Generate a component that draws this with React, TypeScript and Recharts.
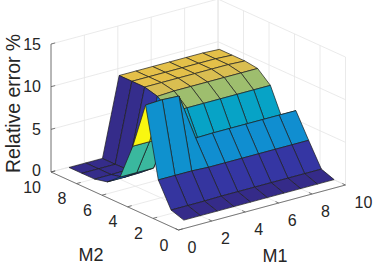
import { Scatter, ScatterChart, XAxis, YAxis } from "recharts";

const WIDTH = 374;
const HEIGHT = 266;

const m1Nodes = [0.7, 1.7, 2.7, 3.7, 4.7, 5.7, 6.7, 7.7, 8.7, 9.7];
const m2Nodes = [0.5, 1.5, 2.5, 3.5, 4.5, 5.5, 6.5, 7.5, 8.5, 9.5];

// relative error, one row per M2 node, one column per M1 node
const relError = [
  [0.45, 0.45, 0.45, 0.45, 0.45, 0.45, 0.45, 0.45, 0.45, 0.45],
  [0.95, 0.95, 0.95, 1.0, 1.0, 1.0, 1.0, 1.0, 1.0, 1.0],
  [3.8, 3.8, 3.8, 3.7, 3.7, 3.7, 3.7, 3.7, 3.7, 3.7],
  [11.9, 12.0, 11.9, 6.45, 6.5, 6.5, 6.5, 6.5, 6.5, 6.5],
  [6.4, 6.4, 6.3, 4.6, 4.6, 4.6, 4.6, 4.6, 4.6, 4.6],
  [2.1, 2.1, 2.1, 8.1, 8.1, 8.1, 8.1, 8.1, 8.1, 8.1],
  [0.85, 0.85, 0.9, 9.3, 9.4, 9.4, 9.4, 9.4, 9.4, 9.4],
  [0.5, 0.5, 0.55, 9.7, 9.7, 9.7, 9.7, 9.7, 9.7, 9.6],
  [0.5, 0.5, 0.5, 9.7, 9.7, 9.7, 9.7, 9.7, 9.7, 9.6],
  [0.5, 0.5, 0.5, 9.7, 9.7, 9.7, 9.7, 9.7, 9.7, 9.6],
];

const m1Ticks = [0, 2, 4, 6, 8, 10];
const m2Ticks = [0, 2, 4, 6, 8, 10];
const zTicks = [0, 5, 10, 15];

const parulaStops: [number, string][] = [
  [0, "#352a87"],
  [0.03, "#363192"],
  [0.0625, "#3439ab"],
  [0.125, "#0363e1"],
  [0.25, "#1485d4"],
  [0.375, "#06a7c4"],
  [0.5, "#2eb7a4"],
  [0.625, "#87bf77"],
  [0.75, "#d1bb59"],
  [0.875, "#fec832"],
  [1, "#f9fb0e"],
];

function parula(value: number): string {
  const t = Math.min(1, Math.max(0, (value - 0.4) / 11.6));
  for (let k = 1; k < parulaStops.length; k++) {
    const [t0, c0] = parulaStops[k - 1];
    const [t1, c1] = parulaStops[k];
    if (t <= t1) {
      const f = (t - t0) / (t1 - t0);
      const mix = (s: number) => {
        const a = parseInt(c0.slice(s, s + 2), 16);
        const b = parseInt(c1.slice(s, s + 2), 16);
        return Math.round(a + (b - a) * f);
      };
      return `rgb(${mix(1)},${mix(3)},${mix(5)})`;
    }
  }
  return "#f9fb0e";
}

// view of the 3D box: screen position of a (M1, M2, error) point
function project(m1: number, m2: number, z: number) {
  return {
    sx: 51 + 16.7 * m1 + 12.75 * (10 - m2),
    sy: 172 - 4.5 * m1 + 5.8 * (10 - m2) - 8.53 * z,
  };
}

type P = { sx: number; sy: number };

function segment(a: P, b: P) {
  return { sx: a.sx, sy: a.sy, dx: b.sx - a.sx, dy: b.sy - a.sy };
}

const gridSegments: ReturnType<typeof segment>[] = [];
for (const k of m1Ticks) {
  gridSegments.push(segment(project(k, 0, 0), project(k, 10, 0)));
  gridSegments.push(segment(project(k, 10, 0), project(k, 10, 15)));
}
for (const k of m2Ticks) {
  gridSegments.push(segment(project(0, k, 0), project(10, k, 0)));
  gridSegments.push(segment(project(10, k, 0), project(10, k, 15)));
}
for (const k of zTicks) {
  gridSegments.push(segment(project(0, 10, k), project(10, 10, k)));
  gridSegments.push(segment(project(10, 10, k), project(10, 0, k)));
}

const axisSegments = [
  segment(project(0, 10, 0), project(0, 10, 15)),
  segment(project(0, 10, 0), project(0, 0, 0)),
  segment(project(0, 0, 0), project(10, 0, 0)),
  ...zTicks.map((k) => segment(project(0, 10, k), project(0.25, 10, k))),
  ...m1Ticks.map((k) => segment(project(k, 0, 0), project(k, 0.25, 0))),
  ...m2Ticks.map((k) => segment(project(0, k, 0), project(0.25, k, 0))),
];

// back to front, the viewer sits on the low M1, low M2 side
const cells: (P & { corners: P[]; fill: string })[] = [];
for (let i = m1Nodes.length - 2; i >= 0; i--) {
  for (let j = m2Nodes.length - 2; j >= 0; j--) {
    const corners = [
      project(m1Nodes[i], m2Nodes[j], relError[j][i]),
      project(m1Nodes[i + 1], m2Nodes[j], relError[j][i + 1]),
      project(m1Nodes[i + 1], m2Nodes[j + 1], relError[j + 1][i + 1]),
      project(m1Nodes[i], m2Nodes[j + 1], relError[j + 1][i]),
    ];
    cells.push({ ...corners[0], corners, fill: parula(relError[j][i]) });
  }
}

type Label = P & { text: string; anchor: string; size: number; rotate?: number };

const labels: Label[] = [
  ...zTicks.map((k) => {
    const p = project(0, 10, k);
    return { sx: p.sx - 10, sy: p.sy - (k === 0 ? 2 : 0), text: String(k), anchor: "end", size: 16 };
  }),
  ...m1Ticks.map((k) => {
    const p = project(k, 0, 0);
    return { sx: p.sx + 9, sy: p.sy + 17, text: String(k), anchor: "start", size: 16 };
  }),
  ...m2Ticks.map((k) => {
    const p = project(0, k, 0);
    return { sx: p.sx - 10, sy: p.sy + 15, text: String(k), anchor: "end", size: 16 };
  }),
  { sx: 91, sy: 255, text: "M2", anchor: "middle", size: 18 },
  { sx: 275, sy: 255.5, text: "M1", anchor: "middle", size: 18 },
  { sx: 13, sy: 103.5, text: "Relative error %", anchor: "middle", size: 19.4, rotate: -90 },
];

function makeLine(stroke: string, width: number) {
  return (props: any) => (
    <line
      x1={props.cx}
      y1={props.cy}
      x2={props.cx + props.payload.dx}
      y2={props.cy + props.payload.dy}
      stroke={stroke}
      strokeWidth={width}
    />
  );
}

function CellShape(props: any) {
  const { cx, cy, payload } = props;
  const points = payload.corners
    .map((c: P) => `${cx + c.sx - payload.sx},${cy + c.sy - payload.sy}`)
    .join(" ");
  return <polygon points={points} fill={payload.fill} stroke="#1c1c1c" strokeWidth={0.7} strokeLinejoin="round" />;
}

function LabelShape(props: any) {
  const { cx, cy, payload } = props;
  return (
    <text
      x={cx}
      y={cy}
      fill="#262626"
      fontSize={payload.size}
      fontFamily="'Liberation Sans', Arial, sans-serif"
      textAnchor={payload.anchor}
      dominantBaseline="central"
      transform={payload.rotate ? `rotate(${payload.rotate} ${cx} ${cy})` : undefined}
    >
      {payload.text}
    </text>
  );
}

export default function App() {
  return (
    <div style={{ position: "absolute", left: 0, top: 0, width: WIDTH, height: HEIGHT, background: "#fff" }}>
      <ScatterChart width={WIDTH} height={HEIGHT} margin={{ top: 0, right: 0, bottom: 0, left: 0 }}>
        <XAxis type="number" dataKey="sx" domain={[0, WIDTH]} hide allowDataOverflow />
        <YAxis type="number" dataKey="sy" domain={[0, HEIGHT]} reversed hide allowDataOverflow />
        <Scatter data={gridSegments} shape={makeLine("#e4e4e4", 0.8)} isAnimationActive={false} />
        <Scatter data={axisSegments} shape={makeLine("#5a5a5a", 0.8)} isAnimationActive={false} />
        <Scatter data={cells} shape={CellShape} isAnimationActive={false} />
        <Scatter data={labels} shape={LabelShape} isAnimationActive={false} />
      </ScatterChart>
    </div>
  );
}
